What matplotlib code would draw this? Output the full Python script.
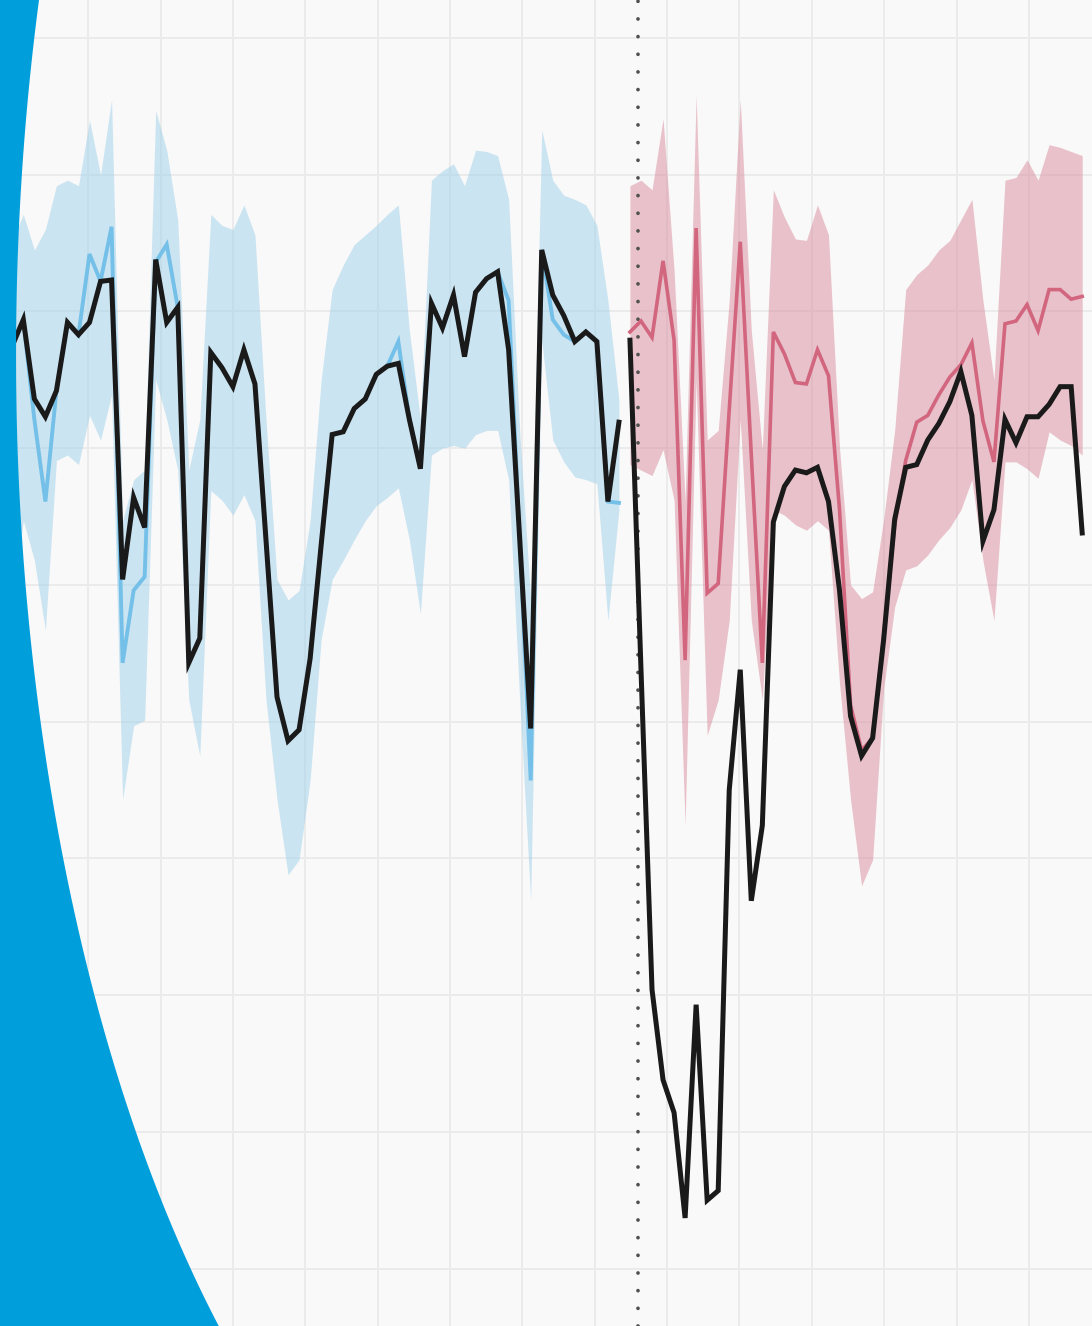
import numpy as np
import matplotlib
matplotlib.use("Agg")
import matplotlib.pyplot as plt
from matplotlib.patches import Polygon

# ---- data -------------------------------------------------------------
# observed series, first period (index 0..55)
observed_before = [47.5, 49.4, 43.6, 42.3, 44.2, 49.2, 48.3, 49.2, 52.2, 52.3,
                   30.4, 36.4, 34.2, 53.8, 49.2, 50.3, 24.3, 26.1, 47.0, 45.9,
                   44.5, 47.2, 44.7, 33.3, 21.8, 18.6, 19.4, 24.6, 32.9, 41.0,
                   41.2, 42.9, 43.6, 45.4, 46.0, 46.2, 42.1, 38.5, 50.6, 48.8,
                   51.2, 46.7, 51.4, 52.4, 52.9, 47.2, 33.4, 19.5, 54.5, 51.2,
                   49.7, 47.8, 48.5, 47.8, 36.1, 41.9]
# model fit, first period
fit_before = [47.5, 49.4, 42.1, 36.1, 44.2, 49.2, 48.3, 54.2, 52.2, 56.2,
              24.3, 29.6, 30.6, 53.6, 54.9, 50.3, 24.3, 26.1, 47.0, 45.9,
              44.5, 47.2, 44.7, 33.3, 21.8, 18.6, 19.4, 24.6, 32.9, 41.0,
              41.2, 42.9, 43.6, 45.4, 46.0, 47.8, 42.1, 38.5, 50.6, 48.8,
              51.2, 46.7, 51.4, 52.4, 52.9, 50.8, 33.4, 15.7, 54.5, 49.4,
              48.3, 47.8, 48.5, 47.8, 36.1, 36.0]
fit_before_hi = [55.2, 57.1, 54.5, 56.0, 59.2, 59.6, 59.2, 64.0, 60.0, 65.5,
                 34.7, 37.7, 38.4, 64.7, 61.8, 56.7, 38.4, 42.1, 57.1, 56.3,
                 56.0, 57.8, 55.6, 42.1, 30.4, 28.9, 29.6, 34.7, 45.0, 51.6,
                 53.4, 54.9, 55.6, 56.3, 57.1, 57.8, 48.6, 42.1, 59.6, 60.3,
                 60.8, 59.2, 61.8, 61.7, 61.4, 58.2, 41.3, 28.9, 63.3, 59.6,
                 58.5, 58.2, 57.8, 56.3, 50.8, 43.5]
fit_before_lo = [28.9, 34.7, 31.8, 26.7, 39.1, 39.5, 38.8, 42.4, 40.6, 43.9,
                 14.3, 19.7, 20.1, 45.0, 42.1, 38.4, 21.6, 17.5, 36.9, 36.2,
                 35.1, 36.6, 34.7, 21.6, 14.3, 8.8, 9.9, 15.7, 26.0, 30.4,
                 31.8, 33.3, 34.7, 35.8, 36.4, 37.1, 33.3, 27.9, 39.5, 40.0,
                 40.2, 40.0, 41.0, 41.3, 41.3, 37.7, 21.6, 6.9, 47.9, 40.6,
                 39.0, 37.9, 37.7, 37.4, 27.4, 35.5]

# observed series, second period (index 56..97)
observed_after = [47.9, 23.8, 0.4, -6.2, -8.6, -16.3, -0.7, -15.0, -14.3, 15.0,
                  23.8, 6.9, 12.4, 34.6, 37.2, 38.4, 38.2, 38.6, 36.1, 29.6,
                  20.4, 17.5, 18.8, 26.0, 34.8, 38.6, 38.8, 40.6, 41.8, 43.4,
                  45.6, 42.4, 33.2, 35.5, 42.1, 40.4, 42.3, 42.3, 43.2, 44.5,
                  44.5, 33.8]
# counterfactual prediction, second period
pred_after = [48.5, 49.3, 48.1, 53.7, 47.9, 24.5, 56.1, 29.4, 30.1, 42.8,
              55.1, 39.5, 24.3, 48.5, 46.9, 44.8, 44.7, 47.2, 45.3, 35.5,
              21.2, 17.9, 18.8, 26.3, 34.4, 39.1, 41.9, 42.4, 43.9, 45.2,
              46.1, 47.7, 42.0, 39.0, 49.1, 49.3, 50.5, 48.6, 51.6, 51.6,
              50.9, 51.1]
pred_after_hi = [59.2, 59.6, 58.9, 64.1, 53.0, 36.2, 65.8, 40.6, 41.3, 50.8,
                 65.5, 48.6, 39.9, 58.9, 56.9, 55.3, 55.2, 57.8, 55.6, 40.0,
                 30.0, 29.0, 29.5, 34.8, 41.3, 51.6, 52.7, 53.4, 54.5, 55.2,
                 56.7, 58.2, 50.8, 45.0, 59.6, 59.8, 61.1, 59.6, 62.2, 62.0,
                 61.7, 61.4]
pred_after_lo = [38.8, 38.4, 38.0, 39.9, 36.2, 12.4, 45.0, 19.0, 21.6, 27.4,
                 42.1, 27.4, 21.6, 35.5, 35.1, 34.4, 34.0, 34.7, 34.0, 22.8,
                 14.3, 8.0, 9.9, 22.4, 28.4, 31.1, 31.4, 32.2, 33.3, 34.2,
                 35.5, 37.7, 31.8, 27.4, 39.0, 39.0, 38.5, 37.8, 41.2, 40.6,
                 40.2, 39.5]

event_index = 56.77          # intervention date
y_grid = np.arange(-20, 71, 10)
x_grid = np.arange(0.33, 98, 6.56)

# ---- figure -----------------------------------------------------------
W, H = 1092, 1326
fig = plt.figure(figsize=(W / 100, H / 100), dpi=100)
ax = fig.add_axes([0, 0, 1, 1])
ax.set_facecolor("#f9f9f9")

t_before = np.arange(len(observed_before))
t_after = np.arange(len(observed_before), len(observed_before) + len(observed_after))

blue_fill = "#9fd0ea"
red_fill = "#d98a9c"

ax.fill_between(t_before, fit_before_lo, fit_before_hi, color=blue_fill,
                alpha=0.5, lw=0, zorder=2)
ax.fill_between(t_after, pred_after_lo, pred_after_hi, color=red_fill,
                alpha=0.5, lw=0, zorder=2)

ax.axvline(event_index, color="#505050", lw=2.7, linestyle=(0, (0.01, 4.7)),
           dash_capstyle="round", zorder=3)

ax.plot(t_before, fit_before, color="#74c0e8", lw=2.8, zorder=4,
        solid_joinstyle="miter")
ax.plot(t_after, pred_after, color="#d2667f", lw=2.6, zorder=4,
        solid_joinstyle="miter")
ax.plot(t_before, observed_before, color="#1a1a1a", lw=3.6, zorder=5,
        solid_joinstyle="miter")
ax.plot(t_after, observed_after, color="#1a1a1a", lw=3.6, zorder=5,
        solid_joinstyle="miter")

ax.set_xlim(-1.115, 97.89)
ax.set_ylim(-24.2, 72.78)
ax.set_xticks(x_grid)
ax.set_yticks(y_grid)
ax.grid(True, color="#ebebeb", lw=1.4, zorder=0)
ax.set_axisbelow(True)
ax.tick_params(length=0, labelbottom=False, labelleft=False)
for s in ax.spines.values():
    s.set_visible(False)

# ---- curved brand panel on the left edge (elliptical arc) -------------
deco = fig.add_axes([0, 0, 1, 1], zorder=10)
deco.set_xlim(0, W)
deco.set_ylim(H, 0)
deco.axis("off")
deco.patch.set_alpha(0)

cx, cy, a, b = 621.0, 355.0, 605.0, 1300.0
yy = np.linspace(-30, H + 40, 400)
xx = cx - a * np.sqrt(1.0 - ((yy - cy) / b) ** 2)
shape = np.column_stack([np.r_[-30, xx, -30], np.r_[-30, yy, H + 40]])
deco.add_patch(Polygon(shape, closed=True, facecolor="#009edb",
                       edgecolor="none", clip_on=False))

fig.savefig("out.png", dpi=100)
